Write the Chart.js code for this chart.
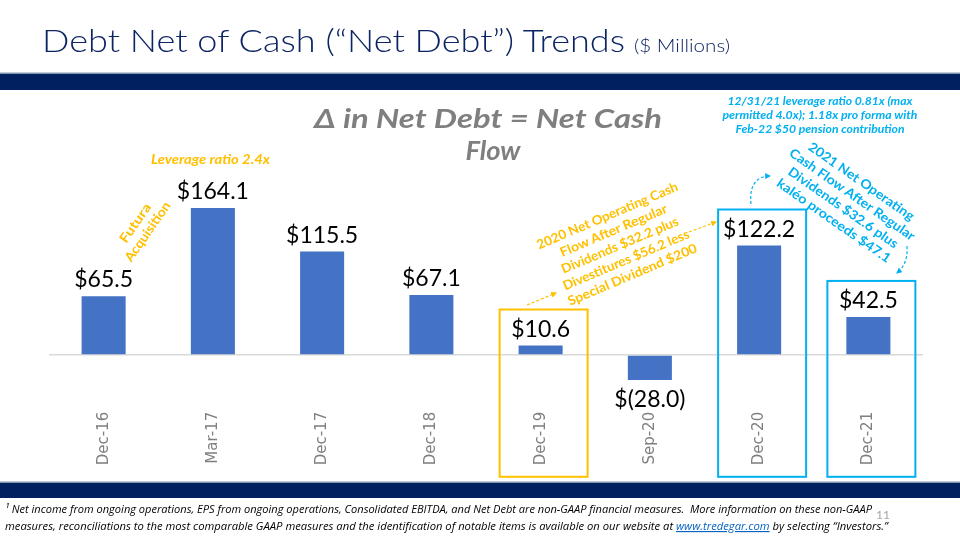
<!DOCTYPE html>
<html>
<head>
<meta charset="utf-8">
<title>Debt Net of Cash Trends</title>
<script src="https://cdn.jsdelivr.net/npm/chart.js@4.4.1/dist/chart.umd.min.js"></script>
<style>
  html, body { margin: 0; padding: 0; background: #fff; }
  #slide { position: relative; width: 960px; height: 540px; overflow: hidden; background: #fff; }
  #chart { position: absolute; left: 0; top: 0; }
  #overlay { position: absolute; left: 0; top: 0; pointer-events: none; }
  .note { font-family: Lato, "DejaVu Sans", sans-serif; font-weight: bold; }
</style>
</head>
<body>
<div id="slide">
  <canvas id="chart" width="960" height="540"></canvas>
  <svg id="overlay" width="960" height="540" viewBox="0 0 960 540">
    <defs>
      <marker id="arrY" viewBox="0 0 10 10" refX="8" refY="5" markerWidth="5" markerHeight="5" orient="auto">
        <path d="M0,0 L10,5 L0,10 z" fill="#ffc000"/>
      </marker>
      <marker id="arrC" viewBox="0 0 10 10" refX="8" refY="5" markerWidth="5" markerHeight="5" orient="auto">
        <path d="M0,0 L10,5 L0,10 z" fill="#00b0f0"/>
      </marker>
    </defs>

    <!-- title -->
    <text x="42" y="52" font-family="Lato, sans-serif" font-weight="300" font-size="32" fill="#0c2463"
          textLength="583" lengthAdjust="spacingAndGlyphs">Debt Net of Cash (“Net Debt”) Trends</text>
    <text x="634" y="52" font-family="Lato, sans-serif" font-weight="300" font-size="17" fill="#0c2463"
          textLength="96" lengthAdjust="spacingAndGlyphs">($ Millions)</text>

    <!-- bands -->
    <rect x="0" y="72.5" width="960" height="1.5" fill="#8497b0"/>
    <rect x="0" y="74" width="960" height="16" fill="#002060"/>
    <rect x="0" y="481.5" width="960" height="1.5" fill="#8497b0"/>
    <rect x="0" y="483" width="960" height="15" fill="#002060"/>

    <!-- headline -->
    <text class="note" x="488" y="128" text-anchor="middle" font-style="italic" font-size="26" fill="#7f7f7f"
          textLength="348" lengthAdjust="spacingAndGlyphs">Δ in Net Debt = Net Cash</text>
    <text class="note" x="493" y="160" text-anchor="middle" font-style="italic" font-size="26" fill="#7f7f7f"
          textLength="55" lengthAdjust="spacingAndGlyphs">Flow</text>

    <!-- yellow notes -->
    <text class="note" x="151" y="164" font-style="italic" font-size="13" fill="#ffc000"
          textLength="119" lengthAdjust="spacingAndGlyphs">Leverage ratio 2.4x</text>
    <g transform="translate(141,227) rotate(-55)" fill="#ffc000" font-size="13">
      <text class="note" y="-7.5" text-anchor="middle" dominant-baseline="central" textLength="45" lengthAdjust="spacingAndGlyphs">Futura</text>
      <text class="note" y="7.5" text-anchor="middle" dominant-baseline="central" textLength="70" lengthAdjust="spacingAndGlyphs">Acquisition</text>
    </g>
    <g transform="translate(619.6,244.6) rotate(-23)" fill="#ffc000" font-size="13">
      <text class="note" y="-32" text-anchor="middle" dominant-baseline="central" textLength="152" lengthAdjust="spacingAndGlyphs">2020 Net Operating Cash</text>
      <text class="note" y="-16" text-anchor="middle" dominant-baseline="central" textLength="115" lengthAdjust="spacingAndGlyphs">Flow After Regular</text>
      <text class="note" y="0" text-anchor="middle" dominant-baseline="central" textLength="126" lengthAdjust="spacingAndGlyphs">Dividends $32.2 plus</text>
      <text class="note" y="16" text-anchor="middle" dominant-baseline="central" textLength="136" lengthAdjust="spacingAndGlyphs">Divestitures $56.2 less</text>
      <text class="note" y="32" text-anchor="middle" dominant-baseline="central" textLength="139" lengthAdjust="spacingAndGlyphs">Special Dividend $200</text>
    </g>
    <path d="M527,305 L556,293" stroke="#ffc000" stroke-width="1.2" stroke-dasharray="3,2" fill="none" marker-end="url(#arrY)"/>
    <path d="M689,232 L716,222" stroke="#ffc000" stroke-width="1.2" stroke-dasharray="3,2" fill="none" marker-end="url(#arrY)"/>

    <!-- cyan notes -->
    <g fill="#00b0f0" font-size="12" font-style="italic">
      <text class="note" x="820" y="105" text-anchor="middle" textLength="185" lengthAdjust="spacingAndGlyphs">12/31/21 leverage ratio 0.81x (max</text>
      <text class="note" x="820" y="119" text-anchor="middle" textLength="195" lengthAdjust="spacingAndGlyphs">permitted 4.0x); 1.18x pro forma with</text>
      <text class="note" x="820" y="133" text-anchor="middle" textLength="169" lengthAdjust="spacingAndGlyphs">Feb-22 $50 pension contribution</text>
    </g>
    <g transform="translate(848,200.6) rotate(35)" fill="#00b0f0" font-size="13">
      <text class="note" y="-24" text-anchor="middle" dominant-baseline="central" textLength="126" lengthAdjust="spacingAndGlyphs">2021 Net Operating</text>
      <text class="note" y="-8" text-anchor="middle" dominant-baseline="central" textLength="150" lengthAdjust="spacingAndGlyphs">Cash Flow After Regular</text>
      <text class="note" y="8" text-anchor="middle" dominant-baseline="central" textLength="131" lengthAdjust="spacingAndGlyphs">Dividends $32.6 plus</text>
      <text class="note" y="24" text-anchor="middle" dominant-baseline="central" textLength="136" lengthAdjust="spacingAndGlyphs">kaléo proceeds $47.1</text>
    </g>
    <path d="M751,204 C749,186 756,176 770,176" stroke="#00b0f0" stroke-width="1.2" stroke-dasharray="3,2" fill="none" marker-end="url(#arrC)"/>
    <path d="M907,246 C908,260 903,268 897,273" stroke="#00b0f0" stroke-width="1.2" stroke-dasharray="3,2" fill="none" marker-end="url(#arrC)"/>

    <!-- footnote -->
    <g font-family="'Liberation Sans Narrow', 'Open Sans', sans-serif" font-style="italic" font-size="11.5" fill="#000">
      <text x="5" y="513" textLength="867" lengthAdjust="spacingAndGlyphs" xml:space="preserve">¹ Net income from ongoing operations, EPS from ongoing operations, Consolidated EBITDA, and Net Debt are non-GAAP financial measures.  More information on these non-GAAP</text>
      <text x="5" y="530" textLength="883" lengthAdjust="spacingAndGlyphs">measures, reconciliations to the most comparable GAAP measures and the identification of notable items is available on our website at <tspan fill="#0563c1" text-decoration="underline">www.tredegar.com</tspan> by selecting “Investors.”</text>
    </g>
    <text x="876" y="519" font-family="Lato, sans-serif" font-size="12" fill="#a6a6a6">11</text>
  </svg>
</div>

<script>
// Net debt by period ($ millions)
const CATEGORIES = ["Dec-16", "Mar-17", "Dec-17", "Dec-18", "Dec-19", "Sep-20", "Dec-20", "Dec-21"];
const NET_DEBT = [65.5, 164.1, 115.5, 67.1, 10.6, -28.0, 122.2, 42.5];

// Periods outlined on the slide
const BOX_2020 = ["Dec-19"];
const BOX_2021 = ["Dec-20", "Dec-21"];

const fmtMoney = v => v < 0 ? `$(${Math.abs(v).toFixed(1)})` : `$${v.toFixed(1)}`;

// value labels above (or below, for negatives) each bar
const valueLabels = {
  id: "valueLabels",
  afterDatasetsDraw(chart) {
    const ctx = chart.ctx;
    const meta = chart.getDatasetMeta(0);
    ctx.save();
    ctx.font = "23px Lato, 'DejaVu Sans', sans-serif";
    ctx.fillStyle = "#000";
    ctx.textAlign = "center";
    ctx.textBaseline = "alphabetic";
    meta.data.forEach((bar, i) => {
      const v = NET_DEBT[i];
      if (v >= 0) ctx.fillText(fmtMoney(v), bar.x, bar.y - 9);
      else ctx.fillText(fmtMoney(v), bar.x, bar.y + 27);
    });
    ctx.restore();
  },
};

// outline boxes round highlighted periods
const outlineBoxes = {
  id: "outlineBoxes",
  afterDatasetsDraw(chart) {
    const ctx = chart.ctx;
    const meta = chart.getDatasetMeta(0);
    const xs = chart.scales.x;
    const draw = (cats, color) => cats.forEach(c => {
      const bar = meta.data[CATEGORIES.indexOf(c)];
      const top = Math.min(bar.y, bar.base) - 36;
      ctx.strokeStyle = color;
      ctx.lineWidth = 2;
      ctx.strokeRect(bar.x + 3 - 44, top, 88, xs.bottom - top);
    });
    ctx.save();
    draw(BOX_2020, "#ffc000");
    draw(BOX_2021, "#00b0f0");
    ctx.restore();
  },
};

new Chart(document.getElementById("chart"), {
  type: "bar",
  data: {
    labels: CATEGORIES,
    datasets: [{
      data: NET_DEBT,
      backgroundColor: "#4472c4",
      borderWidth: 0,
      categoryPercentage: 1,
      barPercentage: 0.403,
    }],
  },
  options: {
    responsive: false,
    animation: false,
    layout: { padding: { left: 49, right: 37, top: 175.8, bottom: 63.2 } },
    plugins: { legend: { display: false }, tooltip: { enabled: false } },
    scales: {
      y: {
        min: -50,
        max: 200,
        ticks: { display: false, stepSize: 50 },
        grid: {
          drawTicks: false,
          lineWidth: 1.5,
          color: c => c.tick && c.tick.value === 0 ? "#d9d9d9" : "rgba(0,0,0,0)",
        },
        border: { display: false },
      },
      x: {
        grid: { display: false, drawTicks: false },
        border: { display: false },
        ticks: {
          color: "#7f7f7f",
          font: { family: "'DejaVu Sans', sans-serif", size: 15 },
          minRotation: 90,
          maxRotation: 90,
          padding: 12,
          autoSkip: false,
        },
        afterFit: s => { s.height = 77; },
      },
    },
  },
  plugins: [outlineBoxes, valueLabels],
});
</script>
</body>
</html>
